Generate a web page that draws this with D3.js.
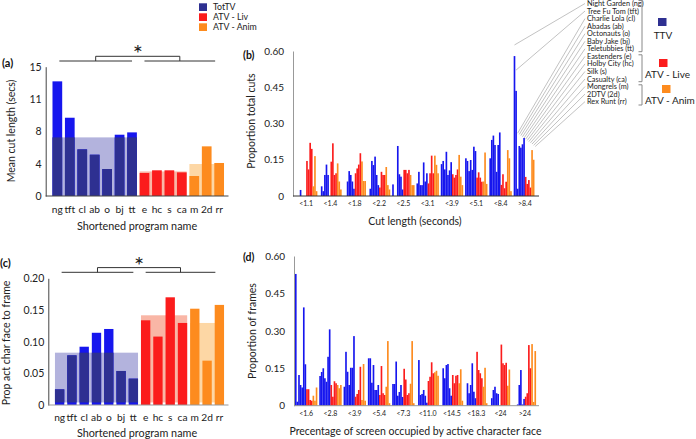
<!DOCTYPE html>
<html><head><meta charset="utf-8">
<script src="https://cdn.jsdelivr.net/npm/d3@7"></script>
<style>body{margin:0;background:#fff} svg{display:block;font-family:Lato,"Open Sans",sans-serif}</style>
</head><body><svg id="c" width="696" height="439"></svg>
<script>
// ---------- DATA ----------
const programs = ["ng","tft","cl","ab","o","bj","tt","e","hc","s","ca","m","2d","rr"];
const programNames = ["Night Garden (ng)","Tree Fu Tom (tft)","Charlie Lola (cl)","Abadas (ab)","Octonauts (o)","Baby Jake (bj)","Teletubbies (tt)","Eastenders (e)","Holby City (hc)","Silk (s)","Casualty (ca)","Mongrels (m)","2DTV (2d)","Rex Runt  (rr)"];
const genres = ["TotTV","ATV - Liv","ATV - Anim"];
const genreSizes = [7,4,3];
const meanCutLength = [13.3,9.08,5.41,4.79,3.13,7.11,7.38,2.67,2.98,2.98,2.74,2.32,5.76,3.83];
const meanCutGenre = [6.8,2.85,3.71];
const cutTicks = [0,3.75,7.5,11.25,15];
const cutTickLabels = ["0","4","8","11","15"];
const faceProp = [0.0247,0.0784,0.092,0.114,0.12,0.0537,0.0416,0.1337,0.108,0.170,0.1295,0.152,0.070,0.158];
const faceGenre = [0.0826,0.1416,0.1295];
const faceTicks = [0,0.05,0.10,0.15,0.20];
const faceTickLabels = ["0","0.05","0.10","0.15","0.20"];
const propTicks = [0,0.15,0.30,0.45,0.60];
const propTickLabels = ["0","0.15","0.30","0.45","0.60"];
const cutBins = ["<1.1","<1.4","<1.8","<2.2","<2.5","<3.1","<3.9","<5.1","<8.4",">8.4"];
const cutDist = [
 [0,0,0,0.025,0,0,0, 0.145,0.11,0.22,0.195, 0.04,0.165,0.02],
 [0,0.04,0.02,0.087,0.13,0.087,0, 0.142,0.218,0.087,0.094, 0.135,0.06,0.027],
 [0,0,0.06,0.103,0.087,0.06,0.03, 0.094,0.114,0.13,0.177, 0.143,0.062,0.062],
 [0,0.03,0.145,0.128,0.163,0.087,0.045, 0.035,0.1,0.087,0.087, 0.12,0.045,0.027],
 [0.048,0,0,0.207,0.09,0.08,0.027, 0.108,0.108,0.094,0.108, 0.087,0.045,0.045],
 [0.052,0.1,0.045,0.045,0.139,0.06,0.094, 0.052,0.094,0.167,0.094, 0.167,0.129,0.094],
 [0.132,0.145,0.11,0.183,0.087,0.106,0.14, 0.09,0.076,0.087,0.11, 0.17,0.08,0.045],
 [0.156,0.145,0.103,0.149,0.108,0.204,0.186, 0.076,0.098,0.076,0.059, 0.06,0.18,0.05],
 [0.156,0.232,0.25,0.211,0.1,0.211,0.263, 0.046,0.09,0.032,0.059, 0.19,0.156,0.02],
 [0.579,0.435,0.03,0.207,0.2,0.214,0.24, 0.079,0.05,0.066,0.035, 0.19,0.15,0]
];
const faceBins = ["<1.6","<2.8","<3.9","<5.4","<7.3","<11.0","<14.5","<18.3","<24",">24"];
const faceDist = [
 [0.528,0.016,0.123,0.083,0.073,0.394,0.166, 0.066,0.066,0.023,0.02, 0.04,0.02,0.073],
 [0.119,0.135,0.15,0.11,0.096,0.196,0.306, 0.083,0.036,0.098,0.09, 0.083,0.07,0.083],
 [0.076,0.216,0.136,0.083,0.152,0.152,0.279, 0.036,0.047,0.063,0.156, 0.023,0.167,0.02],
 [0.19,0.19,0.092,0.163,0.063,0.063,0.083, 0.043,0.159,0.05,0.043, 0.076,0.259,0.01],
 [0.087,0.087,0.177,0.04,0.055,0.083,0.035, 0.148,0.105,0.043,0.05, 0.088,0.259,0.01],
 [0,0.183,0.043,0.047,0.063,0.04,0.012, 0.099,0.116,0.174,0.13, 0.134,0.14,0.12],
 [0,0.15,0.11,0.163,0.167,0.07,0.04, 0.123,0.09,0.12,0.123, 0.09,0.146,0.02],
 [0,0.09,0.05,0.083,0.17,0.056,0.03, 0.216,0.143,0.13,0.11, 0.076,0.152,0.01],
 [0,0.03,0.063,0.076,0.05,0.047,0, 0.245,0.17,0.163,0.172, 0.08,0.145,0],
 [0,0,0.005,0.083,0.143,0.005,0.027, 0.036,0.05,0.243,0.15, 0.247,0.015,0.219]
];
const leaderTargets = [0.625,0.521,0.26,0.255,0.25,0.245,0.24,0.235,0.23,0.225,0.22,0.215,0.21,0.205];

// ---------- STYLE ----------
const navy = "#2e3091", blue = "#1616ee", red = "#fb1c1c", orange = "#fd8b1e";
const genreColor = [blue, red, orange];
const legendColor = [navy, red, orange];
const bandColor = ["#b3b3dd", "#f9b6a6", "#fdd7a5"];
const genreIdx = programs.map((p,i)=> i<7?0:(i<11?1:2));
const starts = [0,7,11];

const svg = d3.select("#c");

// ---------- LEGEND (top) ----------
const lg = svg.append("g");
genres.forEach((g,i)=>{
  lg.append("rect").attr("x",199).attr("y",3.3+i*10).attr("width",8).attr("height",7.7).attr("fill",legendColor[i]);
  lg.append("text").attr("x",213).attr("y",7.3+i*10).attr("dy","0.35em").attr("font-size",8.8).attr("fill","#222").text(g);
});

// ---------- BAR PANELS (a),(c) ----------
function meanPanel(opt){
  const g = svg.append("g");
  const x = d3.scaleBand().domain(programs).range(opt.xr).paddingInner(opt.pi).paddingOuter(0.2);
  const y = d3.scaleLinear().domain(opt.domain).range(opt.yr);
  const bw = x.bandwidth();
  opt.genreMeans.forEach((m,gi)=>{
    const a = programs[starts[gi]], b = programs[starts[gi]+genreSizes[gi]-1];
    g.append("rect").attr("x",x(a)).attr("width",x(b)+bw-x(a))
     .attr("y",y(m)).attr("height",y(opt.bandBase)-y(m)).attr("fill",bandColor[gi]);
  });
  g.selectAll(".bar").data(opt.values).join("rect")
   .attr("x",(d,i)=>x(programs[i])).attr("width",bw)
   .attr("y",d=>y(d)).attr("height",d=>y(0)-y(d))
   .attr("fill",(d,i)=>genreColor[genreIdx[i]]);
  g.selectAll(".nv").data(opt.values.slice(0,7)).join("rect")
   .attr("x",(d,i)=>x(programs[i])).attr("width",bw)
   .attr("y",d=>y(Math.min(d,opt.genreMeans[0]))).attr("height",d=>y(opt.bandBase)-y(Math.min(d,opt.genreMeans[0])))
   .attr("fill",navy);
  const ya = g.append("g").attr("transform",`translate(${opt.ax},0)`)
    .call(d3.axisLeft(y).tickValues(opt.ticks).tickFormat((d,i)=>opt.tickLabels[i]).tickSize(0).tickPadding(4));
  ya.select(".domain").attr("stroke","#444");
  ya.selectAll("text").attr("font-size",10.5).attr("fill","#222").attr("font-family","Lato");
  g.append("line").attr("x1",opt.ax).attr("x2",opt.xr[1]+2).attr("y1",y(0)).attr("y2",y(0)).attr("stroke",opt.baseColor).attr("stroke-width",1);
  const xa = g.append("g").attr("transform",`translate(0,${y(0)})`)
    .call(d3.axisBottom(x).tickSize(0).tickPadding(opt.xpad));
  xa.select(".domain").remove();
  xa.selectAll("text").attr("font-size",10.2).attr("fill","#222").attr("font-family","Lato");
  g.append("text").attr("transform",`translate(${opt.ytx},${opt.yty}) rotate(-90)`).attr("text-anchor","middle")
   .attr("dy","0.35em").attr("font-size",10.5).attr("fill","#222").text(opt.ytitle);
  g.append("text").attr("x",137).attr("y",opt.xty).attr("dy","0.35em").attr("text-anchor","middle")
   .attr("font-size",10.8).attr("fill","#222").text("Shortened program name");
  g.append("text").attr("x",opt.lx).attr("y",opt.ly).attr("dy","0.35em").attr("font-size",11).attr("font-weight","bold").attr("fill","#111").text(opt.label);
  const cx = i => x(programs[i]) + bw/2;
  const L1 = cx(0)+2, L2 = cx(6), R1 = cx(7), R2 = cx(13)-4;
  const yl = opt.sigY, yb = opt.sigY-4.7;
  const bl = (L1+L2)/2, br = (R1+R2)/2;
  g.append("path").attr("d",`M${L1},${yl}H${L2}M${R1},${yl}H${R2}M${bl},${yl}V${yb}H${br}V${yl}`)
   .attr("fill","none").attr("stroke","#333").attr("stroke-width",1);
  g.append("text").attr("x",(bl+br)/2).attr("y",yb+6).attr("text-anchor","middle").attr("font-size",24).attr("fill","#222").text("*");
}

meanPanel({xr:[50,226.5], pi:0.22, domain:[0,15], yr:[196,66.7], values:meanCutLength, genreMeans:meanCutGenre,
  bandBase:0, ticks:cutTicks, tickLabels:cutTickLabels, ax:45.7, baseColor:"#444", xpad:10,
  ytitle:"Mean cut length (secs)", ytx:11, yty:131, xty:226, label:"(a)", lx:2, ly:63, sigY:61});
meanPanel({xr:[52.5,226.5], pi:0.24, domain:[0,0.20], yr:[405,278.3], values:faceProp, genreMeans:faceGenre,
  bandBase:0.004, ticks:faceTicks, tickLabels:faceTickLabels, ax:48.3, baseColor:"#999", xpad:9,
  ytitle:"Prop act char face to frame", ytx:6.5, yty:343, xty:433, label:"(c)", lx:0, ly:263.5, sigY:272.3});

// ---------- DISTRIBUTION PANELS (b),(d) ----------
function distPanel(opt){
  const g = svg.append("g");
  const xg = d3.scaleBand().domain(opt.bins).range([294,537]).paddingInner(0.08).paddingOuter(0.04);
  const xi = d3.scaleBand().domain(programs).range([0,xg.bandwidth()]);
  const y = d3.scaleLinear().domain([0,0.6]).range(opt.yr);
  opt.data.forEach((row,bi)=>{
    g.append("g").attr("transform",`translate(${xg(opt.bins[bi])},0)`)
     .selectAll("rect").data(row).join("rect")
     .attr("x",(d,i)=>xi(programs[i])).attr("width",xi.bandwidth()+0.05)
     .attr("y",d=>y(d)).attr("height",d=>y(0)-y(d))
     .attr("fill",(d,i)=>genreColor[genreIdx[i]]);
  });
  const ya = g.append("g").attr("transform",`translate(${opt.ax},0)`)
    .call(d3.axisLeft(y).tickValues(propTicks).tickFormat((d,i)=>propTickLabels[i]).tickSize(0).tickPadding(9));
  ya.select(".domain").attr("stroke","#999");
  ya.selectAll("text").attr("font-size",10).attr("fill","#222").attr("font-family","Lato");
  g.append("line").attr("x1",opt.ax).attr("x2",539).attr("y1",y(0)).attr("y2",y(0)).attr("stroke",opt.baseColor);
  const xa = g.append("g").attr("transform",`translate(0,${y(0)})`)
    .call(d3.axisBottom(xg).tickSize(0).tickPadding(5));
  xa.select(".domain").remove();
  xa.selectAll("text").attr("font-size",7).attr("fill","#222").attr("font-family","Lato");
  g.append("text").attr("transform",`translate(${opt.ytx},${opt.yty}) rotate(-90)`).attr("text-anchor","middle")
   .attr("dy","0.35em").attr("font-size",10.5).attr("fill","#222").text(opt.ytitle);
  g.append("text").attr("x",opt.xtx).attr("y",opt.xty).attr("dy","0.35em").attr("text-anchor","middle")
   .attr("font-size",10.5).attr("fill","#222").text(opt.xtitle);
  g.append("text").attr("x",243).attr("y",opt.ly).attr("dy","0.35em").attr("font-size",10.5).attr("font-weight","bold").attr("fill","#111").text(opt.label);
  return {xg, xi, y};
}

const pb = distPanel({bins:cutBins, data:cutDist, yr:[196,51], ax:293, baseColor:"#333",
  ytitle:"Proportion total cuts", ytx:251.5, yty:121, xtitle:"Cut length (seconds)", xtx:415, xty:221.5, label:"(b)", ly:55});
distPanel({bins:faceBins, data:faceDist, yr:[405.7,256], ax:294, baseColor:"#999",
  ytitle:"Proportion of frames", ytx:252, yty:331, xtitle:"Precentage of screen occupied by active character face", xtx:415.5, xty:431, label:"(d)", ly:257});

// ---------- PROGRAM KEY (right) ----------
const kg = svg.append("g");
const ky = i => 3.5 + i*7.55;
programNames.forEach((n,i)=>{
  kg.append("text").attr("x",587).attr("y",ky(i)).attr("dy","0.35em").attr("font-size",7.3).attr("fill","#222").text(n);
  const last = pb.xg(cutBins[9]);
  const tx = last + pb.xi(programs[i]) + pb.xi.bandwidth()/2;
  kg.append("line").attr("x1",585).attr("y1",ky(i)).attr("x2",tx).attr("y2",pb.y(leaderTargets[i]))
    .attr("stroke","#999").attr("stroke-width",0.6);
});
const brk = [[0,51.7],[54.3,81.7],[84.3,105]];
brk.forEach(([a,b])=>{
  kg.append("path").attr("d",`M638.5,${a+0.5}H642V${b}H638.5`).attr("fill","none").attr("stroke","#888").attr("stroke-width",1);
});
const keyLabels = ["TTV","ATV - Live","ATV - Anim"];
const keySq = [[658,18],[659,59],[662,85]];
const keyTxt = [[663,35,"middle"],[645,74,"start"],[645,100,"start"]];
keyLabels.forEach((t,i)=>{
  kg.append("rect").attr("x",keySq[i][0]).attr("y",keySq[i][1]).attr("width",8.5).attr("height",8).attr("fill",legendColor[i]);
  kg.append("text").attr("x",keyTxt[i][0]).attr("y",keyTxt[i][1]).attr("dy","0.35em").attr("text-anchor",keyTxt[i][2])
    .attr("font-size",10).attr("fill","#222").text(t);
});
</script></body></html>
